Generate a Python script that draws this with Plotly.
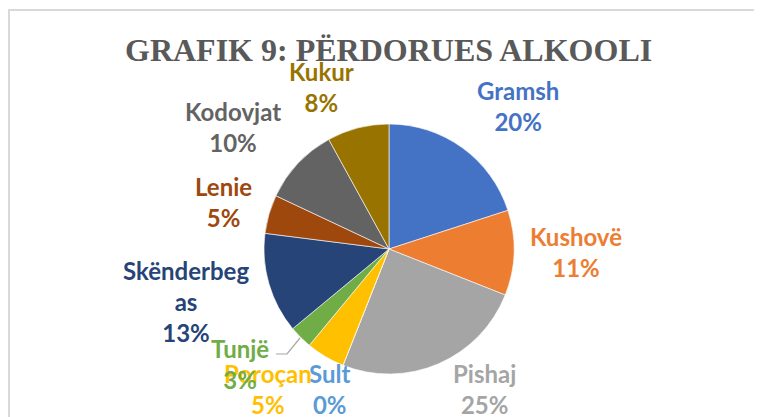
import plotly.graph_objects as go

# ---- data ----
categories = ["Gramsh", "Kushovë", "Pishaj", "Sult", "Poroçan", "Tunjë",
              "Skënderbegas", "Lenie", "Kodovjat", "Kukur"]
values = [20, 11, 25, 0, 5, 3, 13, 5, 10, 8]
colors = ["#4472C4", "#ED7D31", "#A5A5A5", "#5B9BD5", "#FFC000", "#70AD47",
          "#264478", "#9E480E", "#636363", "#997300"]
title_text = "GRAFIK 9: PËRDORUES ALKOOLI"

# display wrapping of the category names (as in the original labels)
display_names = {"Skënderbegas": "Skënderbeg<br>as"}

# label centres in window pixels (layout only)
label_pos = {
    "Gramsh": (518, 106),
    "Kushovë": (576, 252),
    "Pishaj": (485, 389),
    "Sult": (329, 389),
    "Poroçan": (268, 389),
    "Tunjë": (240, 364),
    "Skënderbegas": (186, 301),
    "Lenie": (223, 202),
    "Kodovjat": (233, 127),
    "Kukur": (321, 87),
}

# the page body has an 8px margin: figure starts at (8, 8) in the window
OFF = 8
W, H = 754, 409


def px_x(x):
    return (x - OFF) / W


def px_y(y):
    return 1 - (y - OFF) / H


total = sum(values)

fig = go.Figure()
fig.add_trace(go.Pie(
    labels=categories,
    values=values,
    sort=False,
    direction="clockwise",
    rotation=0,
    marker=dict(colors=colors, line=dict(color="white", width=0.6)),
    textinfo="none",
    hoverinfo="label+percent",
    showlegend=False,
    domain=dict(x=[px_x(264), px_x(514)], y=[px_y(375), px_y(123)]),
))

annotations = []
for name, v, c in zip(categories, values, colors):
    lx, ly = label_pos[name]
    pct = round(v / total * 100)
    annotations.append(dict(
        x=px_x(lx), y=px_y(ly), xref="paper", yref="paper",
        xanchor="center", yanchor="middle", showarrow=False,
        text=f"{display_names.get(name, name)}<br>{pct}%",
        font=dict(family="Lato", size=24, color=c, weight="bold"),
        align="center",
    ))

annotations.append(dict(
    x=px_x(388), y=px_y(50), xref="paper", yref="paper",
    xanchor="center", yanchor="middle", showarrow=False,
    text=title_text,
    font=dict(family="Liberation Serif", size=32, color="#595959", weight="bold"),
))

shapes = [
    # chart-area border (cropped on the right and bottom)
    dict(type="rect", xref="paper", yref="paper",
         x0=px_x(9), x1=1.2, y0=-0.2, y1=px_y(10),
         line=dict(color="#D9D9D9", width=2), fillcolor="rgba(0,0,0,0)", layer="below"),
    # leader line for Tunjë
    dict(type="path", xref="paper", yref="paper",
         path=f"M {px_x(276)},{px_y(354)} L {px_x(287)},{px_y(354)} L {px_x(300)},{px_y(338)}",
         line=dict(color="#A6A6A6", width=1.2)),
]

fig.update_layout(
    width=W, height=H,
    margin=dict(l=0, r=0, t=0, b=0),
    paper_bgcolor="white", plot_bgcolor="white",
    annotations=annotations,
    shapes=shapes,
)

fig.write_html("out.html")
